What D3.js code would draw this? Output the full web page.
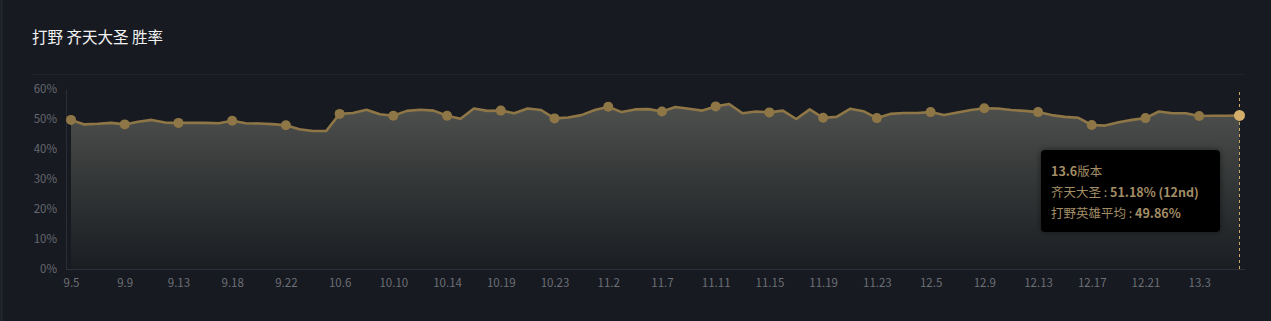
<!DOCTYPE html>
<html>
<head>
<meta charset="utf-8">
<script src="https://cdn.jsdelivr.net/npm/d3@7"></script>
<style>
  html, body { margin: 0; padding: 0; background: #171a21; }
  svg { display: block; }
</style>
</head>
<body>
<svg id="chart" width="1271" height="321"></svg>
<script>
(function () {
  const title = "打野 齐天大圣 胜率";

  const dates = [
    "9.5", "9.6", "9.7", "9.8", "9.9", "9.10", "9.11", "9.12",
    "9.13", "9.14", "9.15", "9.17", "9.18", "9.19", "9.20", "9.21",
    "9.22", "9.23", "9.24", "9.25", "10.6", "10.7", "10.8", "10.9",
    "10.10", "10.11", "10.12", "10.13", "10.14", "10.15", "10.17", "10.18",
    "10.19", "10.20", "10.21", "10.22", "10.23", "10.24", "10.25", "10.26",
    "11.2", "11.3", "11.4", "11.6", "11.7", "11.8", "11.9", "11.10",
    "11.11", "11.12", "11.13", "11.14", "11.15", "11.16", "11.17", "11.18",
    "11.19", "11.20", "11.21", "11.22", "11.23", "11.24", "11.25", "11.26",
    "12.5", "12.6", "12.7", "12.8", "12.9", "12.10", "12.11", "12.12",
    "12.13", "12.14", "12.15", "12.16", "12.17", "12.18", "12.19", "12.20",
    "12.21", "12.22", "12.23", "12.24", "13.3", "13.4", "13.5", "13.6"
  ];

  // win rate (%) per version
  const winRate = [
    49.7, 48.2, 48.4, 48.7, 48.2, 49.1, 49.7, 48.8,
    48.7, 48.7, 48.7, 48.6, 49.4, 48.6, 48.5, 48.3,
    47.9, 46.6, 46.0, 46.0, 51.7, 52.0, 53.1, 51.6,
    51.1, 52.7, 53.1, 52.8, 51.1, 50.1, 53.5, 52.7,
    52.8, 51.9, 53.5, 53.0, 50.2, 50.5, 51.3, 53.0,
    54.1, 52.3, 53.2, 53.3, 52.5, 54.0, 53.4, 52.8,
    54.2, 55.0, 51.9, 52.5, 52.2, 52.8, 50.0, 53.2,
    50.4, 50.7, 53.4, 52.6, 50.3, 51.7, 52.0, 52.0,
    52.3, 51.3, 52.2, 53.0, 53.6, 53.5, 53.0, 52.7,
    52.3, 51.3, 50.7, 50.4, 48.0, 47.8, 48.9, 49.7,
    50.3, 52.5, 51.9, 51.9, 51.0, 51.1, 51.1, 51.18
  ];

  const yTicks = [0, 10, 20, 30, 40, 50, 60];
  const heroName = "齐天大圣";
  const heroRank = "12nd";
  const roleAvgLabel = "打野英雄平均";
  const roleAvg = 49.86;

  const svg = d3.select("#chart");
  const width = 1271;
  const height = 321;
  const margin = { left: 66, right: 26, top: 89, bottom: 52 };
  const plotBottom = height - margin.bottom;

  const x = d3.scalePoint().domain(dates).range([71, 1239.5]);
  const y = d3.scaleLinear().domain([0, 60]).range([plotBottom, margin.top]);

  // panel edge + header
  svg.append("line")
    .attr("x1", 1.5).attr("x2", 1.5).attr("y1", 0).attr("y2", height)
    .attr("stroke", "#242831").attr("stroke-width", 2);

  svg.append("text")
    .attr("x", 32).attr("y", 43)
    .attr("fill", "#f2f2f2")
    .attr("font-family", "'Noto Sans CJK SC', sans-serif")
    .attr("font-size", 15.5)
    .text(title);

  svg.append("line")
    .attr("x1", 32).attr("x2", 1245).attr("y1", 74.5).attr("y2", 74.5)
    .attr("stroke", "#1f232b").attr("stroke-width", 1);

  // gradient for area
  const defs = svg.append("defs");
  const grad = defs.append("linearGradient")
    .attr("id", "areaFill")
    .attr("gradientUnits", "userSpaceOnUse")
    .attr("x1", 0).attr("x2", 0).attr("y1", 104).attr("y2", plotBottom);
  grad.append("stop").attr("offset", 0).attr("stop-color", "#4e514e");
  grad.append("stop").attr("offset", 0.35).attr("stop-color", "#3a3d3c");
  grad.append("stop").attr("offset", 1).attr("stop-color", "#1a1d22");

  const tipShadow = defs.append("filter").attr("id", "tipShadow")
    .attr("x", "-20%").attr("y", "-20%").attr("width", "140%").attr("height", "140%");
  tipShadow.append("feDropShadow")
    .attr("dx", 0).attr("dy", 0).attr("stdDeviation", 3)
    .attr("flood-color", "#000").attr("flood-opacity", 0.5);

  const data = dates.map((d, i) => ({ date: d, value: winRate[i], i }));

  const area = d3.area()
    .x(d => x(d.date))
    .y0(plotBottom)
    .y1(d => y(d.value));

  const line = d3.line()
    .x(d => x(d.date))
    .y(d => y(d.value));

  svg.append("path")
    .datum(data)
    .attr("d", area)
    .attr("fill", "url(#areaFill)");

  // y axis
  const yAxis = svg.append("g")
    .attr("transform", `translate(${margin.left},0)`)
    .call(d3.axisLeft(y).tickValues(yTicks).tickSize(0).tickPadding(9).tickFormat(d => d + "%"));
  yAxis.select(".domain").attr("stroke", "#2a2e36");
  yAxis.selectAll("text")
    .attr("fill", "#65686e")
    .attr("font-family", "'Noto Sans CJK SC', sans-serif")
    .attr("font-size", 11.5);

  // x axis
  const xAxis = svg.append("g")
    .attr("transform", `translate(0,${plotBottom})`)
    .call(d3.axisBottom(x)
      .tickValues(dates.filter((d, i) => i % 4 === 0))
      .tickSize(0).tickPadding(10).tickSizeOuter(0));
  xAxis.select(".domain")
    .attr("d", `M${margin.left},0.5H1245`)
    .attr("stroke", "#2c3038");
  xAxis.selectAll("text")
    .attr("fill", "#6c6f75")
    .attr("font-family", "'Noto Sans CJK SC', sans-serif")
    .attr("font-size", 11.5);

  // hover guide on last point
  const last = data[data.length - 1];
  svg.append("line")
    .attr("x1", x(last.date)).attr("x2", x(last.date))
    .attr("y1", 92).attr("y2", plotBottom)
    .attr("stroke", "#c9a96a").attr("stroke-width", 1)
    .attr("stroke-dasharray", "3,3");

  svg.append("path")
    .datum(data)
    .attr("d", line)
    .attr("fill", "none")
    .attr("stroke", "#8e7646")
    .attr("stroke-width", 2.6)
    .attr("stroke-linejoin", "round");

  svg.selectAll("circle.dot")
    .data(data.filter(d => d.i % 4 === 0))
    .join("circle")
    .attr("class", "dot")
    .attr("cx", d => x(d.date))
    .attr("cy", d => y(d.value))
    .attr("r", 5)
    .attr("fill", "#8e7646");

  svg.append("circle")
    .attr("cx", x(last.date))
    .attr("cy", y(last.value))
    .attr("r", 5.5)
    .attr("fill", "#d2ae6a");

  // tooltip
  const tip = svg.append("g").attr("transform", "translate(1041,150)");
  tip.append("rect")
    .attr("width", 179).attr("height", 82)
    .attr("rx", 4).attr("ry", 4)
    .attr("fill", "#050505")
    .attr("filter", "url(#tipShadow)");

  const tipFont = "'Noto Sans CJK SC', sans-serif";
  const tipColor = "#a38d66";
  const t1 = tip.append("text")
    .attr("x", 10).attr("y", 26)
    .attr("font-family", tipFont).attr("font-size", 12.5)
    .attr("fill", tipColor);
  t1.append("tspan").attr("font-weight", "bold").text(last.date);
  t1.append("tspan").text("版本");

  const t2 = tip.append("text")
    .attr("x", 10).attr("y", 47)
    .attr("font-family", tipFont).attr("font-size", 12.5)
    .attr("fill", tipColor);
  t2.append("tspan").text(heroName + " : ");
  t2.append("tspan").attr("font-weight", "bold")
    .text(last.value.toFixed(2) + "% (" + heroRank + ")");

  const t3 = tip.append("text")
    .attr("x", 10).attr("y", 68)
    .attr("font-family", tipFont).attr("font-size", 12.5)
    .attr("fill", tipColor);
  t3.append("tspan").text(roleAvgLabel + " : ");
  t3.append("tspan").attr("font-weight", "bold").text(roleAvg.toFixed(2) + "%");
})();
</script>
</body>
</html>
